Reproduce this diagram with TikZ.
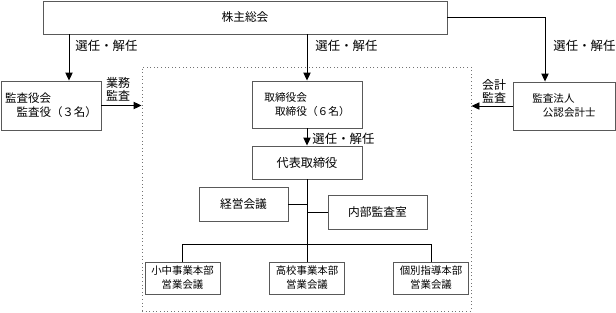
\documentclass[tikz,border=0pt]{standalone}
\usepackage{fontspec}
\setmainfont{Noto Sans CJK JP}
\usetikzlibrary{arrows.meta}

\newcommand\fsz[2]{\fontsize{#1}{#2}\selectfont}

\tikzset{
	box/.style={draw=black!65, inner sep=0pt, align=center},
	twoline/.style={box, align=left},
	lbl/.style={inner sep=0pt, anchor=west, font=\fsz{9.3pt}{11pt}},
	arr/.style={-{Triangle[width=5.5pt,length=6pt]}},
}

\begin{document}
\begin{tikzpicture}[x=0.75pt, y=-0.75pt, line width=0.7pt]
		\useasboundingbox (0,0) rectangle (616,312);

		% Dotted frame round the company bodies
		\node[draw=black!55, dotted, inner sep=0pt, minimum width=246.75pt, minimum height=183pt] (frame) at (306.5,189) {};

		% Top box
		\node[box, minimum width=303pt, minimum height=24.75pt, font=\fsz{8.8pt}{10pt}] (soukai) at (245,17.5) {株主総会};

		% Second row
		\node[twoline, minimum width=75pt, minimum height=36.75pt, font=\fsz{8.6pt}{10.5pt}] (kansayaku) at (51,105.5) {監査役会\\\hspace*{1em}監査役（３名）};
		\node[twoline, minimum width=82.5pt, minimum height=35.25pt, font=\fsz{8pt}{10.5pt}] (torikai) at (307,104.5) {取締役会\\\hspace*{1em}取締役（６名）};
		\node[twoline, minimum width=76.5pt, minimum height=36pt, font=\fsz{7.9pt}{10.5pt}] (houjin) at (564,106) {監査法人\\\hspace*{1em}公認会計士};

		% Inside the frame
		\node[box, minimum width=82.5pt, minimum height=24.75pt, font=\fsz{9.1pt}{11pt}] (daihyo) at (307,162.5) {代表取締役};
		\node[box, minimum width=66.75pt, minimum height=25.5pt, font=\fsz{8.8pt}{11pt}] (keiei) at (243.5,204) {経営会議};
		\node[box, minimum width=74.25pt, minimum height=25.5pt, font=\fsz{8.8pt}{11pt}] (naibu) at (377.5,212) {内部監査室};

		% Sales meetings
		\foreach \x/\nm/\txt in {182.5/shochu/小中事業本部, 307/koukou/高校事業本部, 431/kobetsu/個別指導本部} {
				\node[box, minimum width=56.25pt, minimum height=24pt, font=\fsz{7.8pt}{10.5pt}] (\nm) at (\x,278) {\txt\\営業会議};
			}

		% Columns of the side arrows
		\coordinate (kcol) at (69,0);
		\coordinate (hcol) at (545,0);
		\coordinate (bus) at (0,244);

		% Election arrows
		\draw[arr] (soukai.south -| kcol) -- (kansayaku.north -| kcol);
		\draw[arr] (soukai.south -| torikai.north) -- (torikai.north);
		\draw[arr] (soukai.east) -| (houjin.north -| hcol);
		\draw[arr] (torikai.south) -- (daihyo.north);

		\node[lbl] (sen1) at (75,46) {選任・解任};
		\node[lbl] (sen2) at (315,46) {選任・解任};
		\node[lbl] (sen3) at (553,46) {選任・解任};
		\node[lbl] (sen4) at (312,139) {選任・解任};

		% Audit arrows
		\draw[arr] (kansayaku.east) -- (kansayaku.east -| frame.west);
		\draw[arr] (houjin.west) -- (houjin.west -| frame.east);
		\node[inner sep=0pt, align=center, font=\fsz{9pt}{9.4pt}] (gyomu) at (118,89.5) {業務\\監査};
		\node[inner sep=0pt, align=center, font=\fsz{9pt}{9.4pt}] (kaikei) at (494,91.5) {会計\\監査};

		% Tree below the representative director
		\draw (daihyo.south) -- (daihyo.south |- bus);
		\draw (keiei.east) -- (keiei.east -| daihyo.south);
		\draw (naibu.west) -- (naibu.west -| daihyo.south);
		\draw (shochu.north) -- (shochu.north |- bus) -- (kobetsu.north |- bus) -- (kobetsu.north);
		\draw (koukou.north) -- (koukou.north |- bus);
	\end{tikzpicture}
\end{document}
